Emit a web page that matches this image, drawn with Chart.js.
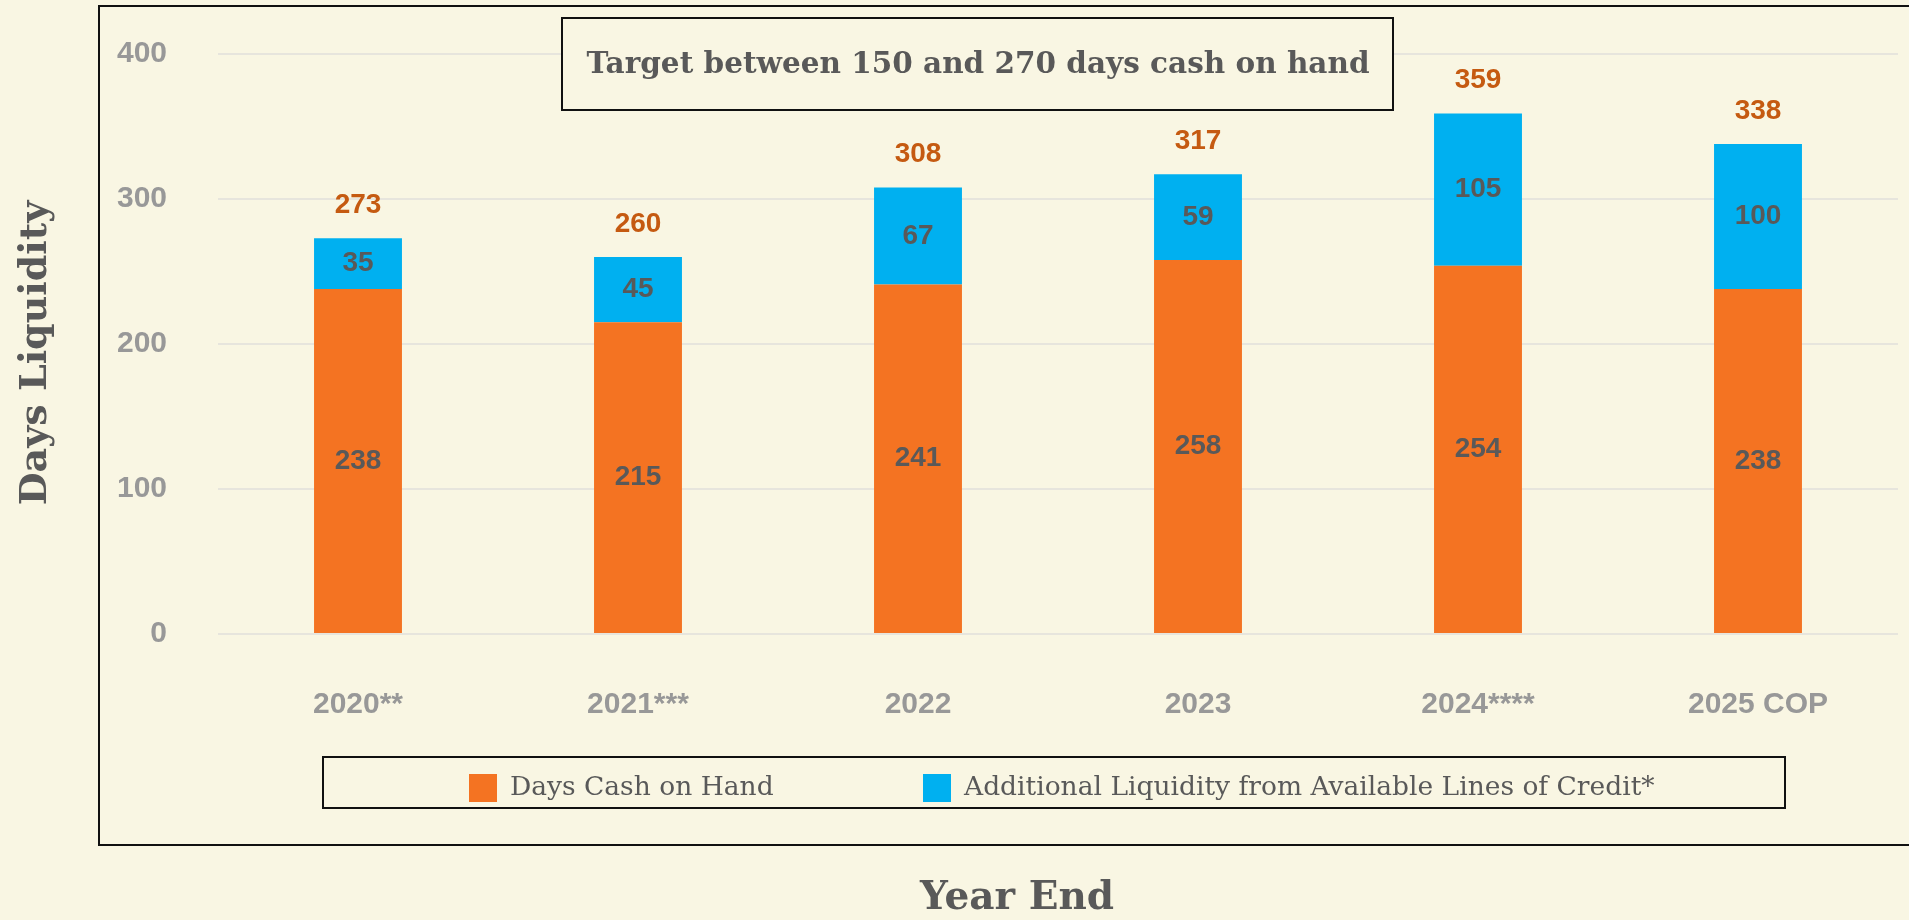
<!DOCTYPE html>
<html>
<head>
<meta charset="utf-8">
<script src="https://cdn.jsdelivr.net/npm/chart.js@4.4.1/dist/chart.umd.min.js"></script>
<style>
  html, body { margin: 0; padding: 0; background: #F9F6E3; }
  #wrap { width: 1909px; height: 920px; }
</style>
</head>
<body>
<div id="wrap"><canvas id="liquidityChart" width="1909" height="920"></canvas></div>
<script>
/*---------------------------------------------------------------*/
/*----------------------------- data ----------------------------*/
/*---------------------------------------------------------------*/
const years = ['2020**', '2021***', '2022', '2023', '2024****', '2025 COP'];
const cashOnHand = [238, 215, 241, 258, 254, 238];
const creditLines = [35, 45, 67, 59, 105, 100];
const totals = [273, 260, 308, 317, 359, 338];
const yTicks = [0, 100, 200, 300, 400];

const seriesNames = ['Days Cash on Hand', 'Additional Liquidity from Available Lines of Credit*'];
const targetNote = 'Target between 150 and 270 days cash on hand';

// colours
const bgColor = '#F9F6E3';
const orange = '#F47322';
const blue = '#00B0F0';
const totalColor = '#C55A11';
const labelColor = '#595959';
const tickColor = '#989898';

const slab = '"DejaVu Serif", "Liberation Serif", serif';

/*---------------------------------------------------------------*/
/*--------------------------- plugins ---------------------------*/
/*---------------------------------------------------------------*/

// 背景 + 外框
const backdrop = {
    id: 'backdrop',
    beforeDraw(chart) {
        const ctx = chart.ctx;
        ctx.save();
        ctx.fillStyle = bgColor;
        ctx.fillRect(0, 0, chart.width, chart.height);
        ctx.strokeStyle = '#111';
        ctx.lineWidth = 2;
        ctx.strokeRect(99, 6, 1830, 839);
        ctx.restore();
    }
};

// 數字標籤
const barLabels = {
    id: 'barLabels',
    afterDatasetsDraw(chart) {
        const ctx = chart.ctx;
        ctx.save();
        ctx.textAlign = 'center';
        ctx.textBaseline = 'middle';
        ctx.font = 'bold 28px "Liberation Sans", Arial, sans-serif';
        chart.data.datasets.forEach((ds, i) => {
            const meta = chart.getDatasetMeta(i);
            meta.data.forEach((bar, j) => {
                ctx.fillStyle = labelColor;
                ctx.fillText(ds.data[j], bar.x, (bar.y + bar.base) / 2);
            });
        });
        // totals above the stack
        const top = chart.getDatasetMeta(1);
        ctx.fillStyle = totalColor;
        top.data.forEach((bar, j) => {
            ctx.fillText(totals[j], bar.x, bar.y - 33);
        });
        ctx.restore();
    }
};

// 標題框, 軸標題, 圖例
const annotations = {
    id: 'annotations',
    afterDraw(chart) {
        const ctx = chart.ctx;
        ctx.save();

        // target box
        ctx.fillStyle = bgColor;
        ctx.fillRect(562, 18, 831, 92);
        ctx.strokeStyle = '#111';
        ctx.lineWidth = 2;
        ctx.strokeRect(562, 18, 831, 92);
        ctx.fillStyle = '#595959';
        ctx.font = 'bold 29.5px ' + slab;
        ctx.textAlign = 'center';
        ctx.textBaseline = 'middle';
        ctx.fillText(targetNote, 978, 65);

        // axis titles
        ctx.font = 'bold 39px ' + slab;
        ctx.fillText('Year End', 1017, 899);
        ctx.save();
        ctx.translate(36, 353);
        ctx.rotate(-Math.PI / 2);
        ctx.font = 'bold 38px ' + slab;
        ctx.fillText('Days Liquidity', 0, 0);
        ctx.restore();

        // legend
        ctx.strokeStyle = '#111';
        ctx.strokeRect(323, 757, 1462, 51);
        ctx.font = '26.5px ' + slab;
        ctx.textAlign = 'left';
        const items = [[469, orange, seriesNames[0]], [923, blue, seriesNames[1]]];
        items.forEach(([x, c, t]) => {
            ctx.fillStyle = c;
            ctx.fillRect(x, 774, 28, 28);
            ctx.fillStyle = '#595959';
            ctx.fillText(t, x + 41, 788);
        });
        ctx.restore();
    }
};

/*---------------------------------------------------------------*/
/*----------------------------- chart ---------------------------*/
/*---------------------------------------------------------------*/
const data = {
    labels: years,
    datasets: [{
        label: seriesNames[0],
        data: cashOnHand,
        backgroundColor: orange,
        barPercentage: 0.314,
        categoryPercentage: 1
    }, {
        label: seriesNames[1],
        data: creditLines,
        backgroundColor: blue,
        barPercentage: 0.314,
        categoryPercentage: 1
    }]
};

const config = {
    type: 'bar',
    data: data,
    options: {
        responsive: false,
        animation: false,
        devicePixelRatio: 1,
        layout: {
            padding: { top: 54, right: 11, left: 0, bottom: 0 }
        },
        plugins: {
            legend: { display: false },
            tooltip: { enabled: false }
        },
        scales: {
            x: {
                stacked: true,
                grid: { display: false, drawTicks: false },
                border: { display: false },
                ticks: {
                    color: tickColor,
                    font: { family: '"Liberation Sans", Arial, sans-serif', size: 30, weight: 'bold' },
                    padding: 53,
                    maxRotation: 0
                },
                afterFit(scale) { scale.height = 286; }
            },
            y: {
                stacked: true,
                min: 0,
                max: 400,
                grid: { color: '#E7E5DD', lineWidth: 2, drawTicks: false },
                border: { display: false },
                afterBuildTicks(scale) {
                    scale.ticks = yTicks.map(v => ({ value: v }));
                },
                ticks: {
                    color: tickColor,
                    font: { family: '"Liberation Sans", Arial, sans-serif', size: 30, weight: 'bold' },
                    padding: 51
                },
                afterFit(scale) {
                    scale.width = 218;
                    // tick padding is horizontal here, keep it out of the top/bottom margin
                    scale.paddingTop = 0;
                    scale.paddingBottom = 0;
                }
            }
        }
    },
    plugins: [backdrop, barLabels, annotations]
};

const myChart = new Chart(
    document.getElementById('liquidityChart'),
    config
);
</script>
</body>
</html>
